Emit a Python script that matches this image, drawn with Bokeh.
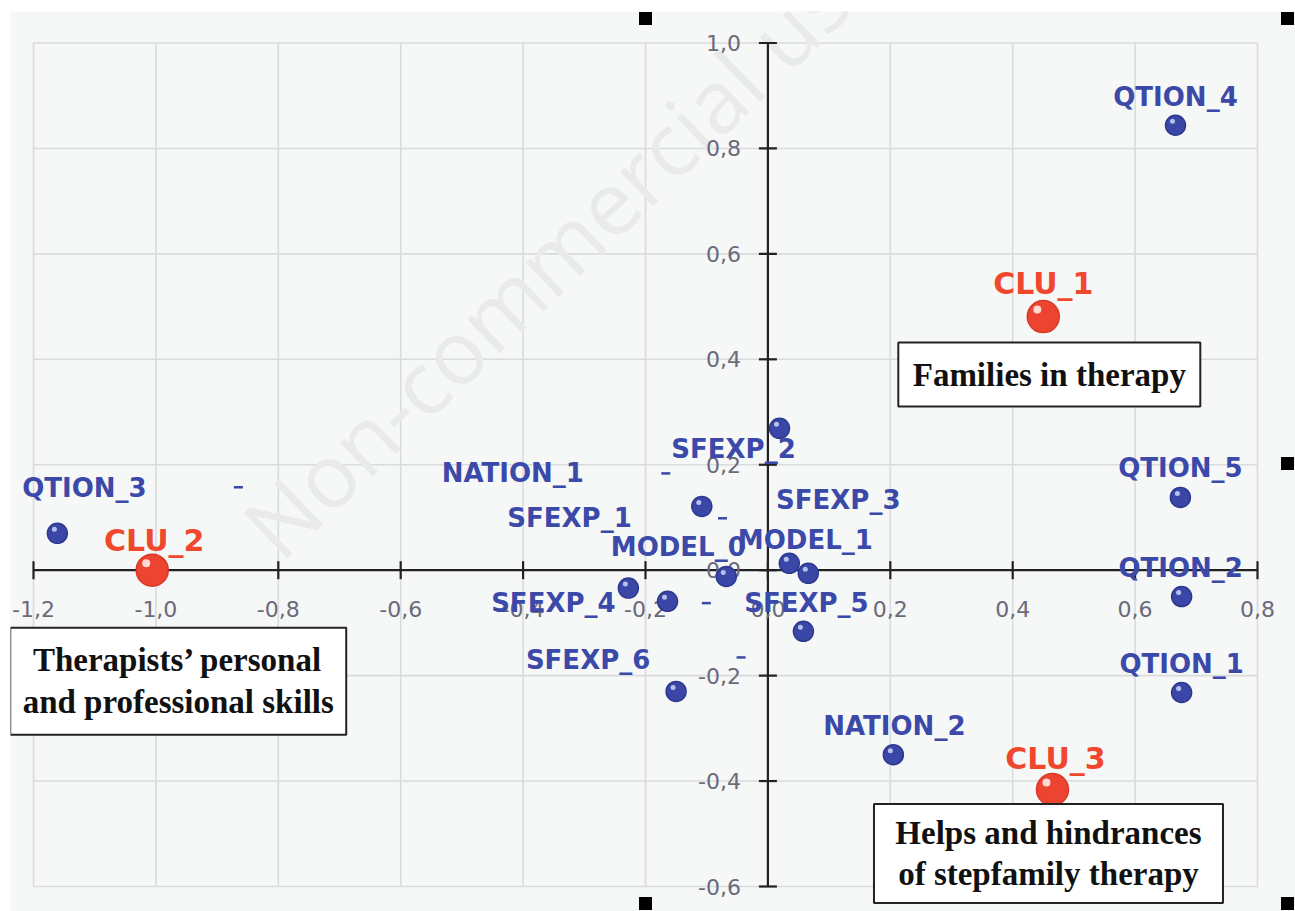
from bokeh.plotting import figure
from bokeh.models import Range1d, Grid
from bokeh.core.properties import value
from bokeh.embed import file_html
from bokeh.resources import INLINE
import math

# ---------------- data ----------------
var_names = ["QTION_4", "QTION_5", "QTION_2", "QTION_1", "QTION_3",
             "NATION_1", "NATION_2", "SFEXP_1", "SFEXP_2", "SFEXP_3",
             "SFEXP_4", "SFEXP_5", "SFEXP_6", "MODEL_0", "MODEL_1"]
var_f1 = [0.666, 0.674, 0.676, 0.676, -1.161,
          -0.108, 0.205, -0.164, 0.019, 0.066,
          -0.228, 0.058, -0.150, -0.068, 0.035]
var_f2 = [0.844, 0.138, -0.050, -0.232, 0.070,
          0.121, -0.350, -0.059, 0.269, -0.006,
          -0.034, -0.116, -0.230, -0.012, 0.013]

clu_names = ["CLU_1", "CLU_2", "CLU_3"]
clu_f1 = [0.450, -1.006, 0.465]
clu_f2 = [0.481, 0.000, -0.416]

x_ticks = [-1.2, -1.0, -0.8, -0.6, -0.4, -0.2, 0.0, 0.2, 0.4, 0.6, 0.8]
x_tick_labels = ["-1,2", "-1,0", "-0,8", "-0,6", "-0,4", "-0,2", "0,0", "0,2", "0,4", "0,6", "0,8"]
y_ticks = [-0.6, -0.4, -0.2, 0.0, 0.2, 0.4, 0.6, 0.8, 1.0]
y_tick_labels = ["-0,6", "-0,4", "-0,2", "0,0", "0,2", "0,4", "0,6", "0,8", "1,0"]

box_texts = ["Families in therapy",
             "Therapists\u2019 personal\nand professional skills",
             "Helps and hindrances\nof stepfamily therapy"]

# ---------------- layout (pixels) ----------------
PX_X = 612.0   # pixels per unit on x
PX_Y = 527.2   # pixels per unit on y
W, H = 1295, 911
BL, BT = 10, 11               # white strip left / top
ML, MR, MT, MB = 33, 38, 42.5, 25   # distance from page edge to outer grid lines

def dxu(px):
    return px / PX_X

def dyu(px):  # screen px downward -> data units
    return -px / PX_Y

# label offsets from their point (screen px: right, down)
var_lab_dx = [0, 0, -1, 0, 27, -189, 1, -98, -46, 30, -75, 3, -88, -48, 16]
var_lab_dy = [-28, -29, -29, -28, -45, -33, -29, -83, 21, -73, 15, -28, -31, -30, -23]
clu_lab_dx = [0, 2, 3]
clu_lab_dy = [-33, -30, -31]

# stray dash marks next to some labels (index into var_names, offsets px)
dash_idx = [4, 5, 7, 10, 12]
dash_dx = [181, -36, 55, 78, 65]
dash_dy = [-46, -33, -83, 15, -34]

BLUE = "#3a47a6"
BLUE_TXT = "#3b49a9"
RED = "#ec4430"
RED_TXT = "#f0482c"
TICK_TXT = "#6a6a7a"
GRID = "#dadbdc"

p = figure(width=W, height=H,
           x_range=Range1d(x_ticks[0] - dxu(ML - BL), x_ticks[-1] + dxu(MR)),
           y_range=Range1d(y_ticks[0] - MB / PX_Y, y_ticks[-1] + (MT - BT) / PX_Y),
           output_backend="svg", toolbar_location=None,
           x_axis_location=None, y_axis_location=None,
           min_border=0, min_border_left=BL, min_border_top=BT)
p.background_fill_color = "#f6f7f7"
p.border_fill_color = "white"
p.outline_line_color = None
for g in list(p.renderers) + list(p.center):
    if isinstance(g, Grid):
        g.visible = False

# grid lines limited to the tick extent
p.segment(x0=x_ticks, x1=x_ticks, y0=[y_ticks[0]] * len(x_ticks), y1=[y_ticks[-1]] * len(x_ticks),
          line_color=GRID, line_width=1.6)
p.segment(x0=[x_ticks[0]] * len(y_ticks), x1=[x_ticks[-1]] * len(y_ticks), y0=y_ticks, y1=y_ticks,
          line_color=GRID, line_width=1.6)

# watermark
p.text(x=[x_ticks[0] + dxu(266)], y=[dyu(13)], text=["Non-commercial use only"],
       angle=math.radians(44), text_font=value("Open Sans"), text_font_size="88px",
       text_color="#e9eaea", text_align="left", text_baseline="bottom")

# axes through origin
p.segment(x0=[x_ticks[0]], y0=[0], x1=[x_ticks[-1]], y1=[0], line_color="#222222", line_width=2.2)
p.segment(x0=[0], y0=[y_ticks[0]], x1=[0], y1=[y_ticks[-1]], line_color="#222222", line_width=2.2)
p.scatter(x=x_ticks, y=[0] * len(x_ticks), marker="dash", size=18, angle=math.pi / 2,
          line_color="#222222", line_width=2.2)
p.scatter(x=[0] * len(y_ticks), y=y_ticks, marker="dash", size=18,
          line_color="#222222", line_width=2.2)

# tick labels
p.text(x=x_ticks, y=[dyu(39)] * len(x_ticks), text=x_tick_labels,
       text_font=value("DejaVu Sans"), text_font_size="22px", text_color=TICK_TXT,
       text_align="center", text_baseline="middle")
p.text(x=[dxu(-27)] * len(y_ticks), y=y_ticks, text=y_tick_labels,
       text_font=value("DejaVu Sans"), text_font_size="22px", text_color=TICK_TXT,
       text_align="right", text_baseline="middle")

# variable points
p.scatter(x=var_f1, y=var_f2, size=20, fill_color=BLUE, line_color="#2d3890", line_width=1.5)
p.scatter(x=[a + dxu(-3) for a in var_f1], y=[b + dyu(-4) for b in var_f2], size=5,
          fill_color="#b9c0ee", line_color=None)

# cluster points
p.scatter(x=clu_f1, y=clu_f2, size=32, fill_color=RED, line_color="#d83a26", line_width=1.5)
p.scatter(x=[a + dxu(-6) for a in clu_f1], y=[b + dyu(-7) for b in clu_f2], size=8,
          fill_color="#ffd9d2", line_color=None)

# labels
p.text(x=[a + dxu(d) for a, d in zip(var_f1, var_lab_dx)],
       y=[b + dyu(d) for b, d in zip(var_f2, var_lab_dy)], text=var_names,
       text_font=value("DejaVu Sans"), text_font_style="bold", text_font_size="26px",
       text_color=BLUE_TXT, text_align="center", text_baseline="middle")
p.text(x=[a + dxu(d) for a, d in zip(clu_f1, clu_lab_dx)],
       y=[b + dyu(d) for b, d in zip(clu_f2, clu_lab_dy)], text=clu_names,
       text_font=value("DejaVu Sans"), text_font_style="bold", text_font_size="30px",
       text_color=RED_TXT, text_align="center", text_baseline="middle")

# stray dashes
p.scatter(x=[var_f1[i] + dxu(d) for i, d in zip(dash_idx, dash_dx)],
          y=[var_f2[i] + dyu(d) for i, d in zip(dash_idx, dash_dy)],
          marker="dash", size=9, line_color=BLUE_TXT, line_width=2.5)

# cluster description boxes (placed relative to clusters, px offsets)
box_anchor = [0, 1, 2]
box_dx = [6, 26, -4]
box_dy = [58, 111, 64]
box_w = [302, 336, 349]
box_h = [64, 107, 99]
bx = [clu_f1[i] + dxu(d) for i, d in zip(box_anchor, box_dx)]
by = [clu_f2[i] + dyu(d) for i, d in zip(box_anchor, box_dy)]
p.rect(x=bx, y=by, width=box_w, height=box_h, width_units="screen", height_units="screen",
       fill_color="white", line_color="#222222", line_width=2)
p.text(x=bx, y=by, text=box_texts, text_font=value("Liberation Serif"), text_font_style="bold",
       text_font_size="33px", text_color="#111111", text_align="center", text_baseline="middle",
       text_line_height=1.15)

# selection handles of the chart object
handle_px = [(645, 18), (1287, 18), (1287, 463), (645, 903), (1287, 903)]
p.scatter(x=[dxu(hx - 767.4) for hx, hy in handle_px], y=[dyu(hy - 569.7) for hx, hy in handle_px],
          marker="square", size=13, fill_color="black", line_color=None)

open("out.html", "w").write(file_html(p, INLINE))
